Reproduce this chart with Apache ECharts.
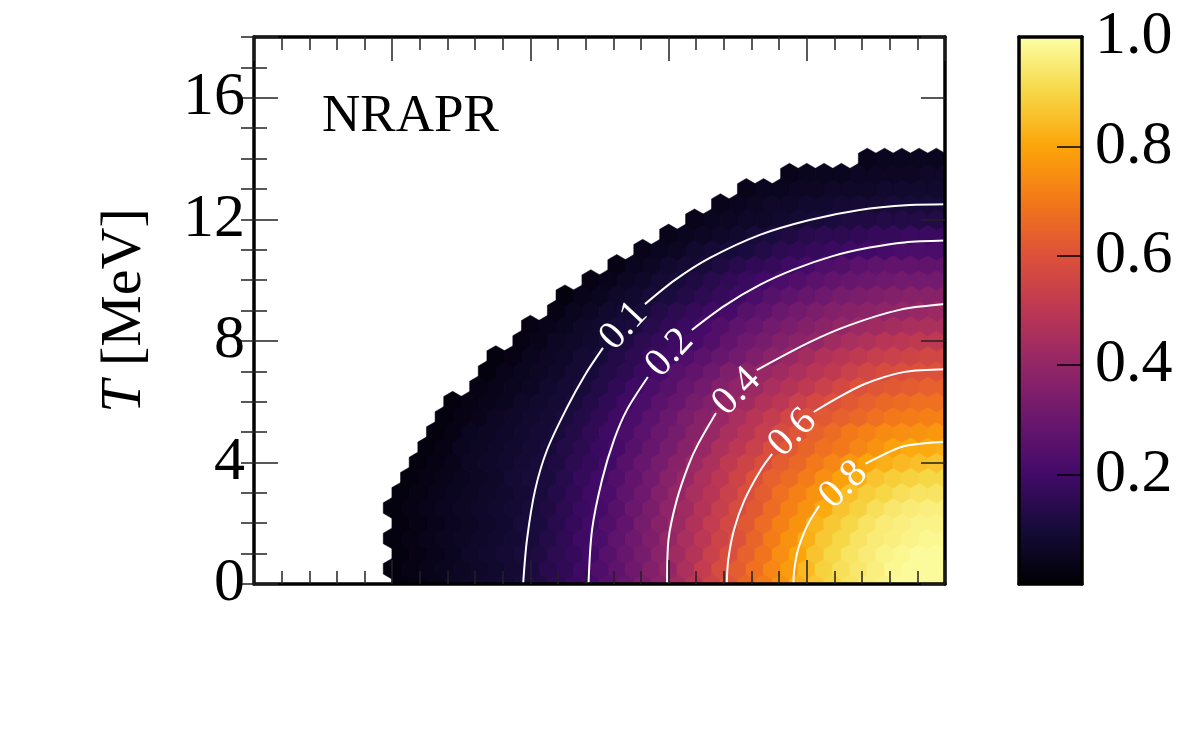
<!DOCTYPE html>
<html>
<head>
<meta charset="utf-8">
<script src="https://cdn.jsdelivr.net/npm/echarts@6/dist/echarts.min.js"></script>
<style>
html, body { margin: 0; padding: 0; background: #fff; }
#chart { width: 1200px; height: 750px; }
</style>
</head>
<body>
<div id="chart"></div>
<script>
'use strict';
// hexbin map: x runs 0..1 in 40 columns, T in MeV every 0.5
const nCols = 40;
const cellU = 0.025;
const tStep = 0.5;
const tRows = [0, 0.5, 1, 1.5, 2, 2.5, 3, 3.5, 4, 4.5, 5, 5.5, 6, 6.5, 7, 7.5, 8, 8.5, 9, 9.5, 10, 10.5, 11, 11.5, 12, 12.5, 13, 13.5, 14];

// values in percent, one list per T row; every row ends at the right edge
const heatRows = [
    [2, 3, 4, 6, 7, 8, 9, 10, 12, 15, 18, 21, 25, 29, 34, 38, 43, 49, 55, 61, 66, 71, 76, 82, 87, 90, 93, 96, 97, 99, 99, 99],
    [2, 3, 4, 5, 6, 7, 8, 9, 11, 14, 16, 19, 23, 27, 31, 36, 40, 46, 52, 58, 63, 68, 73, 78, 84, 89, 92, 94, 96, 98, 99, 99, 99],
    [2, 3, 4, 5, 7, 8, 9, 10, 12, 15, 17, 20, 25, 29, 33, 38, 43, 48, 54, 59, 64, 69, 75, 80, 86, 90, 93, 95, 97, 98, 99, 99],
    [2, 3, 4, 5, 6, 7, 8, 9, 10, 13, 16, 19, 22, 27, 31, 35, 40, 45, 50, 55, 60, 65, 71, 76, 82, 87, 90, 93, 95, 96, 97, 98, 98],
    [2, 3, 4, 5, 6, 7, 8, 10, 11, 14, 17, 20, 24, 28, 33, 37, 42, 47, 52, 57, 62, 67, 72, 76, 83, 87, 90, 93, 95, 96, 97, 97],
    [2, 3, 4, 5, 6, 7, 8, 9, 10, 12, 15, 18, 21, 25, 30, 34, 39, 43, 48, 53, 58, 62, 67, 72, 76, 81, 86, 89, 92, 94, 95, 96, 96],
    [2, 3, 4, 5, 6, 7, 8, 9, 11, 13, 16, 19, 22, 27, 31, 36, 40, 45, 49, 54, 59, 63, 68, 72, 76, 80, 85, 88, 90, 92, 93, 93],
    [2, 3, 4, 5, 6, 7, 9, 10, 11, 14, 17, 20, 24, 28, 32, 37, 41, 46, 50, 55, 60, 64, 67, 71, 75, 79, 82, 86, 88, 89, 90, 90],
    [2, 3, 4, 6, 7, 8, 9, 10, 12, 15, 17, 20, 25, 29, 33, 37, 42, 46, 51, 55, 59, 63, 66, 70, 73, 77, 80, 82, 84, 85, 86],
    [2, 3, 5, 6, 7, 8, 9, 10, 13, 15, 18, 21, 25, 29, 33, 37, 41, 46, 50, 54, 59, 62, 65, 68, 70, 73, 76, 79, 81, 81, 82],
    [2, 3, 5, 6, 7, 8, 9, 10, 13, 16, 19, 22, 26, 30, 33, 37, 41, 45, 49, 53, 58, 61, 64, 67, 70, 72, 74, 75, 76, 77],
    [2, 3, 4, 6, 7, 8, 9, 11, 13, 16, 19, 22, 26, 30, 34, 37, 41, 45, 49, 52, 56, 60, 62, 64, 66, 68, 70, 71, 72, 72],
    [2, 3, 4, 5, 7, 8, 9, 10, 13, 16, 19, 22, 26, 29, 33, 36, 40, 43, 47, 50, 54, 57, 60, 62, 64, 66, 67, 68, 68],
    [3, 4, 5, 6, 8, 9, 10, 13, 16, 19, 22, 25, 29, 32, 36, 39, 42, 45, 48, 51, 54, 57, 60, 61, 62, 63, 64, 64],
    [2, 4, 5, 6, 7, 9, 10, 13, 15, 18, 21, 25, 28, 31, 35, 38, 41, 43, 46, 49, 51, 54, 56, 58, 59, 60, 60],
    [2, 3, 5, 6, 7, 9, 10, 13, 15, 18, 20, 23, 26, 29, 32, 35, 38, 41, 44, 47, 49, 51, 53, 54, 55, 56, 56],
    [3, 4, 6, 7, 8, 10, 12, 15, 17, 19, 21, 24, 28, 31, 33, 36, 38, 40, 43, 45, 47, 49, 50, 51, 51],
    [3, 4, 5, 7, 8, 10, 11, 14, 16, 18, 21, 24, 27, 29, 32, 34, 36, 38, 40, 42, 43, 44, 45, 46, 46],
    [3, 5, 6, 8, 9, 10, 13, 15, 17, 19, 21, 25, 27, 30, 32, 34, 36, 37, 38, 39, 40, 41, 42],
    [2, 4, 5, 7, 8, 10, 11, 13, 15, 17, 19, 22, 25, 27, 29, 31, 33, 34, 35, 36, 37, 37, 37],
    [3, 4, 6, 7, 9, 10, 12, 14, 16, 18, 20, 22, 24, 26, 28, 29, 30, 31, 32, 32, 32],
    [3, 5, 6, 8, 9, 10, 12, 14, 16, 17, 19, 21, 23, 24, 26, 27, 28, 28, 28, 28],
    [4, 5, 6, 8, 9, 10, 11, 13, 15, 16, 17, 18, 19, 20, 21, 22, 22, 22],
    [4, 5, 6, 7, 8, 10, 11, 12, 14, 15, 15, 16, 17, 17, 18, 18, 18],
    [4, 5, 6, 7, 7, 8, 9, 10, 11, 12, 12, 13, 13, 13, 13],
    [4, 5, 6, 7, 7, 8, 8, 9, 9, 9, 10, 10, 10, 10],
    [4, 5, 5, 6, 6, 7, 7, 7, 8, 8, 8, 8],
    [4, 5, 5, 5, 6, 6, 6, 6, 7, 7],
    [4, 5, 5, 5, 5]
];

// contour lines [x, T]; null = gap left for the inline label
const contour01 = [[0.3895, 0], [0.395, 1.45], [0.4068, 3.09], [0.4241, 4.41], [0.4526, 5.79], [0.479, 6.88], [0.505, 7.77], null,
    [0.5658, 9.21], [0.609, 10.0], [0.6597, 10.73], [0.732, 11.49], [0.804, 11.98], [0.8765, 12.31], [0.949, 12.47], [1.0, 12.5]];
const contour02 = [[0.4841, 0], [0.4892, 1.78], [0.5036, 3.42], [0.521, 4.74], [0.5397, 5.73], [0.570, 6.81], null,
    [0.6337, 8.36], [0.6813, 9.16], [0.7319, 9.84], [0.7825, 10.36], [0.8374, 10.79], [0.8909, 11.07], [0.9415, 11.24], [1.0, 11.3]];
const contour04 = [[0.5978, 0], [0.5998, 1.45], [0.6118, 2.76], [0.629, 3.92], [0.6428, 4.61], [0.6686, 5.63], null,
    [0.7276, 7.04], [0.8042, 7.96], [0.862, 8.52], [0.9342, 9.02], [1.0, 9.21]];
const contour06 = [[0.6842, 0], [0.6863, 0.79], [0.6945, 1.78], [0.7098, 2.76], [0.7332, 3.75], [0.7499, 4.28], null,
    [0.810, 5.66], [0.8389, 6.05], [0.8837, 6.58], [0.9415, 6.98], [1.0, 7.07]];
const contour08 = [[0.7806, 0], [0.7818, 0.46], [0.7868, 1.09], [0.7977, 1.78], [0.8069, 2.18], [0.818, 2.57], null,
    [0.8851, 3.96], [0.9366, 4.51], [0.9704, 4.63], [1.0, 4.67]];
const contourLevels = ['0.1', '0.2', '0.4', '0.6', '0.8'];
const contourLabelAt = [[0.5354, 8.49], [0.6019, 7.60], [0.6987, 6.33], [0.7796, 4.97], [0.8533, 3.26]];

const yTicks = [0, 4, 8, 12, 16];
const barTicks = [0.2, 0.4, 0.6, 0.8, 1.0];

// styles
const labelAngles = [47, 47, 45, 45, 44];
const inferno = ['#000004', '#160b39', '#420a68', '#6a176e', '#932667', '#bc3754',
    '#dd513a', '#f37819', '#fca50a', '#f6d746', '#fcffa4'];
const serif = 'Liberation Serif';
const frame = { show: true, onZero: false, lineStyle: { color: '#000', width: 3.5 } };
const tickStyle = { color: '#222', width: 1.5 };

const hexData = [];
heatRows.forEach((row, j) => {
    const start = nCols - row.length;
    row.forEach((v, k) => {
        const i = start + k;
        const u = (i + 0.5 + (j % 2) * 0.5) * cellU;
        hexData.push([u, tRows[j], v / 100]);
    });
});

const renderHex = (params, api) => {
    const c = api.coord([api.value(0), api.value(1)]);
    const s = api.size([cellU, tStep]);
    const hw = s[0] / 2 + 0.3;
    const r = s[1] / 1.5 + 0.3;
    const color = api.visual('color');
    return {
        type: 'polygon',
        shape: {
            points: [
                [c[0], c[1] - r], [c[0] + hw, c[1] - r / 2], [c[0] + hw, c[1] + r / 2],
                [c[0], c[1] + r], [c[0] - hw, c[1] + r / 2], [c[0] - hw, c[1] - r / 2]
            ]
        },
        style: { fill: color, stroke: color, lineWidth: 0.5 }
    };
};

const splitSegments = (pts) => {
    const segs = [[]];
    pts.forEach(p => {
        if (p === null) segs.push([]);
        else segs[segs.length - 1].push(p);
    });
    return segs;
};

const lineSeries = [];
[contour01, contour02, contour04, contour06, contour08].forEach(c => {
    splitSegments(c).forEach(seg => {
        lineSeries.push({
            type: 'line',
            xAxisIndex: 0,
            yAxisIndex: 0,
            data: seg,
            smooth: 0.3,
            symbol: 'none',
            clip: true,
            silent: true,
            z: 4,
            lineStyle: { color: '#fff', width: 2 }
        });
    });
});

const xMain = (position) => ({
    gridIndex: 0, type: 'value', position: position, min: 0, max: 1, interval: 0.2, z: 10,
    axisLine: frame,
    axisTick: { show: true, inside: true, length: 24, lineStyle: tickStyle },
    minorTick: { show: true, splitNumber: 5, length: 13, lineStyle: tickStyle },
    axisLabel: { show: false },
    splitLine: { show: false },
    minorSplitLine: { show: false }
});

const yMain = (position, interval, tickLen, withLabels) => ({
    gridIndex: 0, type: 'value', position: position, min: 0, max: 18, interval: interval, z: 10,
    axisLine: withLabels === null ? { show: false } : frame,
    axisTick: { show: true, inside: true, length: tickLen, lineStyle: tickStyle },
    axisLabel: withLabels ? {
        show: true, margin: 9, color: '#000', fontFamily: serif, fontSize: 62,
        formatter: v => (yTicks.indexOf(v) >= 0 ? String(v) : '')
    } : { show: false },
    splitLine: { show: false }
});

const chart = echarts.init(document.getElementById('chart'), null, { renderer: 'canvas' });
chart.setOption({
    animation: false,
    backgroundColor: '#fff',
    grid: [
        { left: 254, right: 255, top: 37, bottom: 166 },
        { left: 1019, width: 63, top: 37, bottom: 166 }
    ],
    xAxis: [
        xMain('bottom'),
        xMain('top'),
        {
            gridIndex: 1, type: 'category', position: 'bottom', data: ['c'], z: 10,
            axisLine: frame, axisTick: { show: false }, axisLabel: { show: false }
        },
        {
            gridIndex: 1, type: 'category', position: 'top', data: ['c'], z: 10,
            axisLine: frame, axisTick: { show: false }, axisLabel: { show: false }
        }
    ],
    yAxis: [
        Object.assign(yMain('left', 4, 24, true), {
            name: '{i|T} [MeV]',
            nameLocation: 'middle',
            nameGap: 100,
            nameRotate: 90,
            nameTextStyle: {
                fontFamily: serif, fontSize: 58, color: '#000',
                rich: { i: { fontFamily: serif, fontSize: 58, fontStyle: 'italic', color: '#000' } }
            }
        }),
        yMain('left', 1, 13, null),
        yMain('right', 4, 24, false),
        yMain('right', 1, 13, null),
        {
            gridIndex: 1, type: 'value', position: 'left', min: 0, max: 1, z: 10,
            axisLine: frame, axisTick: { show: false }, axisLabel: { show: false }, splitLine: { show: false }
        },
        {
            gridIndex: 1, type: 'value', position: 'right', min: 0, max: 1, interval: 0.2, z: 10,
            axisLine: frame,
            axisTick: { show: true, inside: true, length: 25, lineStyle: { color: '#000', width: 1.5 } },
            axisLabel: {
                show: true, margin: 13, color: '#000', fontFamily: serif, fontSize: 62,
                formatter: v => (barTicks.some(t => Math.abs(t - v) < 1e-6) ? v.toFixed(1) : '')
            },
            splitLine: { show: false }
        }
    ],
    visualMap: {
        type: 'continuous',
        show: false,
        min: 0,
        max: 1,
        dimension: 2,
        seriesIndex: 0,
        inRange: { color: inferno }
    },
    series: [
        {
            type: 'custom',
            xAxisIndex: 0,
            yAxisIndex: 0,
            data: hexData,
            renderItem: renderHex,
            clip: true,
            silent: true,
            z: 2
        },
        ...lineSeries,
        {
            type: 'scatter',
            xAxisIndex: 0,
            yAxisIndex: 0,
            symbol: 'circle',
            symbolSize: 2,
            itemStyle: { color: 'rgba(0,0,0,0)' },
            silent: true,
            z: 5,
            data: contourLevels.map((lvl, k) => ({
                name: lvl,
                value: contourLabelAt[k],
                label: { rotate: labelAngles[k] }
            })),
            label: {
                show: true,
                position: 'inside',
                formatter: '{b}',
                color: '#ffffff',
                opacity: 1,
                textBorderWidth: 0,
                fontFamily: serif,
                fontSize: 40
            }
        },
        {
            type: 'bar',
            xAxisIndex: 2,
            yAxisIndex: 4,
            data: [1],
            barWidth: '100%',
            silent: true,
            itemStyle: {
                color: new echarts.graphic.LinearGradient(0, 0, 0, 1,
                    inferno.slice().reverse().map((c, k) => ({ offset: k / (inferno.length - 1), color: c })))
            }
        }
    ],
    graphic: [
        {
            type: 'text',
            x: 322,
            y: 117,
            z: 20,
            style: {
                text: 'NRAPR',
                fontFamily: serif,
                fontSize: 53,
                fill: '#000',
                textVerticalAlign: 'middle'
            }
        }
    ]
});
</script>
</body>
</html>
